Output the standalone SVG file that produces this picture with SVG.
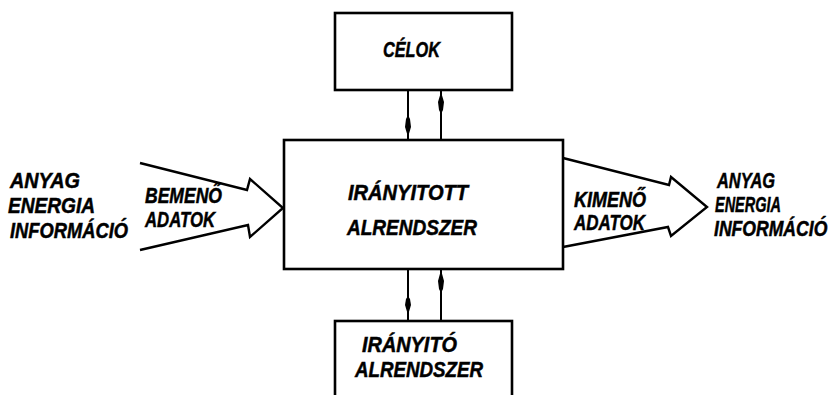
<svg xmlns="http://www.w3.org/2000/svg" width="838" height="395" viewBox="0 0 838 395">
  <style>
    .box { fill: #fff; stroke: #000; stroke-width: 2.6; }
    .flow { fill: none; stroke: #000; stroke-width: 2.4; stroke-linejoin: miter; }
    .link { stroke: #000; stroke-width: 2; }
    .head { fill: #000; stroke: none; }
    text { font-family: "Liberation Sans", Arial, sans-serif; font-weight: bold; font-style: italic; font-size: 22px; fill: #000; stroke: #000; stroke-width: 0.5; }
  </style>
  <rect width="838" height="395" fill="#fff"/>

  <!-- connectors -->
  <g id="connectors">
    <!-- input flow arrow -->
    <path class="flow" d="M140,163 L247,190 L250,179 L283,208 L250,237 L248,225 L140,250"/>
    <!-- output flow arrow -->
    <path class="flow" d="M563,158 L669,185 L671,177 L707,207 L671,236 L668,227 L563,247"/>
    <!-- goals <-> controlled subsystem -->
    <line class="link" x1="408" y1="90" x2="408" y2="140"/>
    <path class="head" d="M408,137 L411,127 L410,119 L408,115 L406,119 L405,127 Z"/>
    <line class="link" x1="441" y1="90" x2="441" y2="140"/>
    <path class="head" d="M441,92 L444,102 L443,110 L441,114 L439,110 L438,102 Z"/>
    <!-- controlled subsystem <-> controlling subsystem -->
    <line class="link" x1="408" y1="269" x2="408" y2="321"/>
    <path class="head" d="M408,315 L411,305 L410,299 L408,296 L406,299 L405,305 Z"/>
    <line class="link" x1="441" y1="269" x2="441" y2="321"/>
    <path class="head" d="M441,270 L444,281 L443,289 L441,293 L439,289 L438,281 Z"/>
  </g>

  <g id="celok">
    <rect class="box" x="335" y="13" width="177" height="77"/>
    <text x="383" y="57" textLength="57" lengthAdjust="spacingAndGlyphs">CÉLOK</text>
  </g>

  <g id="iranyitott-alrendszer">
    <rect class="box" x="284" y="140" width="279" height="129"/>
    <text x="348" y="200" textLength="120" lengthAdjust="spacingAndGlyphs">IRÁNYITOTT</text>
    <text x="347" y="235" textLength="130" lengthAdjust="spacingAndGlyphs">ALRENDSZER</text>
  </g>

  <g id="iranyito-alrendszer">
    <rect class="box" x="335" y="321" width="177" height="100"/>
    <text x="362" y="352" textLength="95" lengthAdjust="spacingAndGlyphs">IRÁNYITÓ</text>
    <text x="355" y="377" textLength="128" lengthAdjust="spacingAndGlyphs">ALRENDSZER</text>
  </g>

  <g id="bemeno-adatok">
    <text x="145" y="203" textLength="77" lengthAdjust="spacingAndGlyphs">BEMENŐ</text>
    <text x="145" y="227" textLength="70" lengthAdjust="spacingAndGlyphs">ADATOK</text>
  </g>

  <g id="kimeno-adatok">
    <text x="574" y="207" textLength="72" lengthAdjust="spacingAndGlyphs">KIMENŐ</text>
    <text x="574" y="230" textLength="71" lengthAdjust="spacingAndGlyphs">ADATOK</text>
  </g>

  <g id="bemenet">
    <text x="10" y="188" textLength="70" lengthAdjust="spacingAndGlyphs">ANYAG</text>
    <text x="8" y="213" textLength="87" lengthAdjust="spacingAndGlyphs">ENERGIA</text>
    <text x="10" y="238" textLength="118" lengthAdjust="spacingAndGlyphs">INFORMÁCIÓ</text>
  </g>

  <g id="kimenet">
    <text x="717" y="188" textLength="58" lengthAdjust="spacingAndGlyphs">ANYAG</text>
    <text x="715" y="212" textLength="66" lengthAdjust="spacingAndGlyphs">ENERGIA</text>
    <text transform="translate(714,236) scale(0.8,1)" x="0" y="0">INFORMÁCIÓ</text>
  </g>
</svg>
